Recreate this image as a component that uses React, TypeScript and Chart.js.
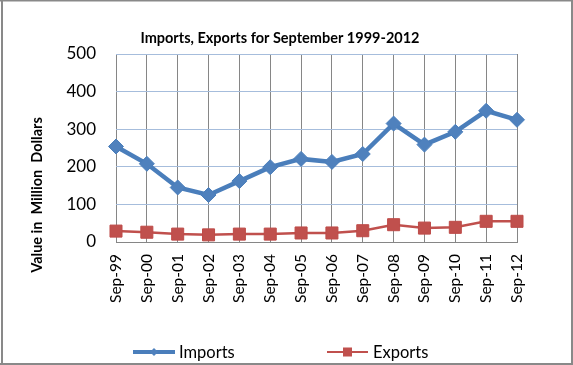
import React, { useEffect, useRef } from "react";
import { Chart, registerables } from "chart.js";

Chart.register(...registerables);

const categories = ["Sep-99", "Sep-00", "Sep-01", "Sep-02", "Sep-03", "Sep-04", "Sep-05", "Sep-06", "Sep-07", "Sep-08", "Sep-09", "Sep-10", "Sep-11", "Sep-12"];
const imports = [254, 208, 145, 125, 162, 199, 221, 213, 234, 315, 259, 293, 349, 325];
const exports_ = [29, 26, 21, 19, 21, 21, 24, 24, 30, 46, 37, 39, 55, 55];
const yTicks = [0, 100, 200, 300, 400, 500];

const chartTitle = "Imports, Exports for September 1999-2012";
const yTitle = "Value in  Million  Dollars";

const FONT = "Lato, 'Open Sans', sans-serif";

const decorPlugin = {
  id: "decor",
  afterDraw(chart: any) {
    const ctx = chart.ctx as CanvasRenderingContext2D;
    const W = chart.width;
    const H = chart.height;
    ctx.save();
    // border
    ctx.fillStyle = "#898989";
    ctx.fillRect(0, 0, W, 1.5);
    ctx.fillRect(1, 0, 2, H);
    ctx.fillRect(W - 2, 0, 2, H);
    ctx.fillRect(0, H - 2, W, 2);

    // title
    ctx.fillStyle = "#000";
    ctx.font = `bold 14.5px ${FONT}`;
    ctx.textAlign = "center";
    ctx.textBaseline = "middle";
    ctx.fillText(chartTitle, 280, 38);

    // y title
    ctx.save();
    ctx.translate(37, 195);
    ctx.rotate(-Math.PI / 2);
    ctx.font = `bold 14.5px ${FONT}`;
    ctx.fillText(yTitle, 0, 0);
    ctx.restore();

    // legend
    const ds = chart.data.datasets;
    const ly = 352;
    ctx.font = `16.5px ${FONT}`;
    ctx.textAlign = "left";
    // Imports
    ctx.strokeStyle = ds[0].borderColor;
    ctx.lineWidth = 4;
    ctx.beginPath();
    ctx.moveTo(133, ly);
    ctx.lineTo(175, ly);
    ctx.stroke();
    ctx.fillStyle = ds[0].pointBackgroundColor;
    ctx.beginPath();
    ctx.moveTo(154 - 4, ly);
    ctx.lineTo(154, ly - 4);
    ctx.lineTo(154 + 4, ly);
    ctx.lineTo(154, ly + 4);
    ctx.closePath();
    ctx.fill();
    ctx.fillStyle = "#000";
    ctx.fillText(ds[0].label, 179, ly + 1);
    // Exports
    ctx.strokeStyle = ds[1].borderColor;
    ctx.lineWidth = 2;
    ctx.beginPath();
    ctx.moveTo(327, ly);
    ctx.lineTo(368, ly);
    ctx.stroke();
    ctx.fillStyle = ds[1].pointBackgroundColor;
    ctx.fillRect(343, ly - 4.5, 9, 9);
    ctx.fillStyle = "#000";
    ctx.fillText(ds[1].label, 373, ly + 1);
    ctx.restore();
  },
};

export default function App() {
  const ref = useRef<HTMLCanvasElement>(null);
  useEffect(() => {
    if (!ref.current) return;
    const chart = new Chart(ref.current, {
      type: "line",
      data: {
        labels: categories,
        datasets: [
          {
            label: "Imports",
            data: imports,
            borderColor: "#4A7EBB",
            backgroundColor: "#4F81BD",
            pointBackgroundColor: "#4F81BD",
            pointBorderColor: "#4A7EBB",
            borderWidth: 4.5,
            pointStyle: "rectRot",
            pointRadius: 7.5,
            pointBorderWidth: 1,
            tension: 0,
            clip: false as any,
          },
          {
            label: "Exports",
            data: exports_,
            borderColor: "#C0504D",
            backgroundColor: "#C0504D",
            pointBackgroundColor: "#C0504D",
            pointBorderColor: "#BE4B48",
            borderWidth: 2.5,
            pointStyle: "rect",
            pointRadius: 8.5,
            pointBorderWidth: 1,
            tension: 0,
            clip: false as any,
          },
        ],
      },
      options: {
        responsive: false,
        animation: false,
        devicePixelRatio: 1,
        layout: { padding: { left: 0, right: 56, top: 54, bottom: 0 } },
        plugins: {
          legend: { display: false },
          title: { display: false },
          tooltip: { enabled: false },
        },
        scales: {
          x: {
            offset: false,
            grid: { color: "#868686", lineWidth: 1, drawTicks: false },
            border: { display: true, color: "#868686", width: 1 },
            ticks: {
              minRotation: 90,
              maxRotation: 90,
              padding: 12,
              color: "#000",
              font: { family: FONT, size: 15.5 },
              autoSkip: false,
            },
            afterFit: (s: any) => {
              s.height = 123;
            },
          },
          y: {
            min: 0,
            max: 500,
            afterBuildTicks: (s: any) => {
              s.ticks = yTicks.map((v) => ({ value: v }));
            },
            grid: {
              color: (c: any) => (c.tick && c.tick.value === 0 ? "#868686" : "#A6BDDC"),
              lineWidth: 1,
              drawTicks: false,
            },
            border: { display: false },
            ticks: {
              padding: 20,
              color: "#000",
              font: { family: FONT, size: 17 },
            },
            afterFit: (s: any) => {
              s.width = 116;
            },
          },
        },
      },
      plugins: [decorPlugin],
    });
    return () => chart.destroy();
  }, []);
  return (
    <div style={{ position: "absolute", left: 0, top: 0, width: 573, height: 365, background: "#fff" }}>
      <canvas ref={ref} width={573} height={365} style={{ display: "block" }} />
    </div>
  );
}
